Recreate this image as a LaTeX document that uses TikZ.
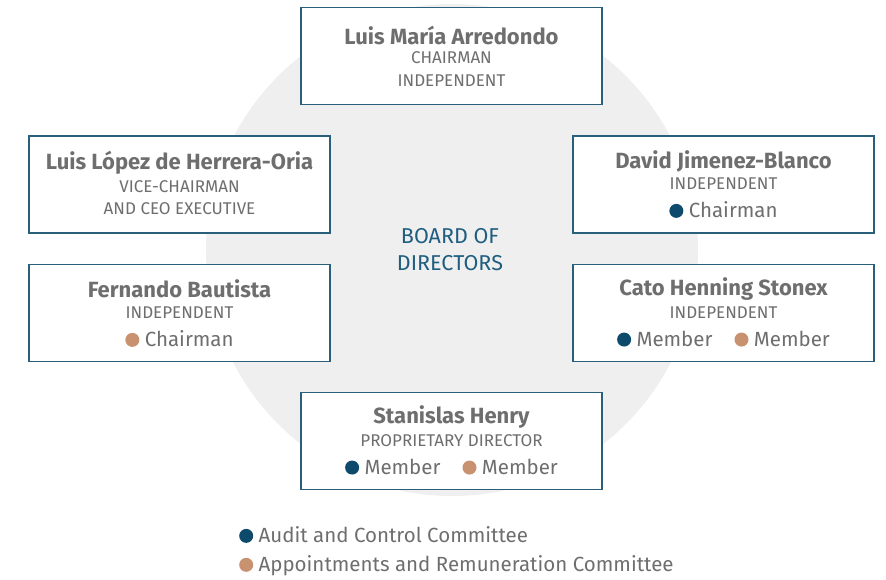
\documentclass[tikz,border=0pt]{standalone}
\usepackage{fontspec}
\setmainfont{Fira Sans}
\definecolor{frame}{HTML}{2A5F7C}
\definecolor{adc}{HTML}{0E4A6B}
\definecolor{arc}{HTML}{C8916F}
\definecolor{txt}{HTML}{6E6E6E}
\definecolor{bg}{HTML}{EFEFEF}
\definecolor{brd}{HTML}{1F5E80}
\newcommand{\dotA}{\tikz[baseline=-7pt]\fill[adc] (0,0) circle (7pt);}
\newcommand{\dotR}{\tikz[baseline=-7pt]\fill[arc] (0,0) circle (7pt);}
\tikzset{
  x=1pt, y=-1pt,
  card/.style={draw=frame, line width=1.1pt, fill=white, minimum width=301pt, minimum height=97pt, inner sep=0pt},
  nm/.style={font=\fontsize{22}{24}\selectfont\bfseries, text=txt, inner sep=0pt},
  sub/.style={font=\fontsize{17}{19}\selectfont, text=txt, inner sep=0pt},
  mem/.style={font=\fontsize{20.5}{22}\selectfont, text=txt, inner sep=0pt},
  bd/.style={font=\fontsize{21.5}{23}\selectfont, text=brd, inner sep=0pt},
}
\begin{document}
\begin{tikzpicture}
\useasboundingbox (0,0) rectangle (886,579);
\fill[bg] (452,250) circle (246);
% boxes
\node[card] (top) at (451.5,56) {};
\node[card] (lone) at (179.5,184.5) {};
\node[card] (rone) at (723.5,184.5) {};
\node[card] (ltwo) at (179.5,313) {};
\node[card] (rtwo) at (723.5,313) {};
\node[card] (bot) at (451.5,441) {};
% top
\node[nm] (topn) at (451.5,35) {Luis María Arredondo};
\node[sub] (topa) at (451.5,58) {CHAIRMAN};
\node[sub] (topb) at (451.5,81) {INDEPENDENT};
% left one
\node[nm] (lonen) at (179.5,163) {Luis López de Herrera-Oria};
\node[sub] (lonea) at (179.5,187) {VICE-CHAIRMAN};
\node[sub] (loneb) at (179.5,209) {AND CEO EXECUTIVE};
% right one
\node[nm] (ronen) at (723.5,161) {David Jimenez-Blanco};
\node[sub] (ronea) at (723.5,184) {INDEPENDENT};
\node[mem] (roneb) at (723.5,210) {\dotA\ Chairman};
% left two
\node[nm] (ltwon) at (179.5,289) {Fernando Bautista};
\node[sub] (ltwoa) at (179.5,313) {INDEPENDENT};
\node[mem] (ltwob) at (179.5,339) {\dotR\ Chairman};
% right two
\node[nm] (rtwon) at (723.5,289) {Cato Henning Stonex};
\node[sub] (rtwoa) at (723.5,313) {INDEPENDENT};
\node[mem] (rtwob) at (723.5,339) {\dotA\ Member\hspace{22pt}\dotR\ Member};
% bottom
\node[nm] (botn) at (451.5,417) {Stanislas Henry};
\node[sub] (bota) at (451.5,441) {PROPRIETARY DIRECTOR};
\node[mem] (botb) at (451.5,467) {\dotA\ Member\hspace{22pt}\dotR\ Member};
% center
\node[bd] (boarda) at (450,236) {BOARD OF};
\node[bd] (boardb) at (450,263) {DIRECTORS};
% legend
\node[mem, anchor=west] (lega) at (239,535) {\dotA\ Audit and Control Committee};
\node[mem, anchor=west] (legb) at (239,566) {\dotR\ Appointments and Remuneration Committee};
\end{tikzpicture}
\end{document}
